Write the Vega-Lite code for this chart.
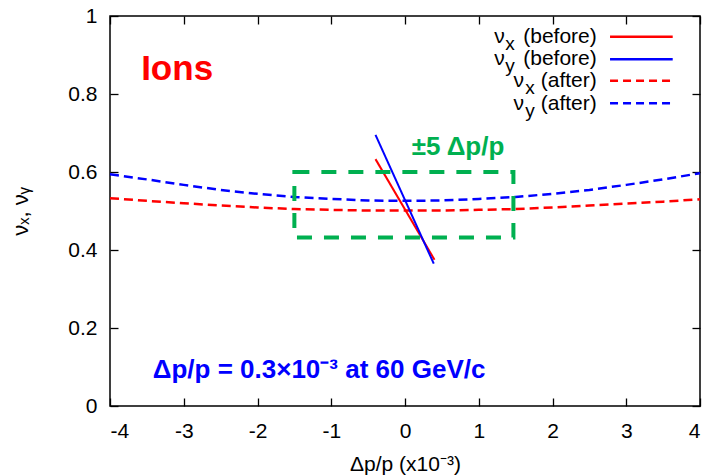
{
  "$schema": "https://vega.github.io/schema/vega-lite/v6.json",
  "width": 590,
  "height": 390,
  "autosize": {"type": "none"},
  "padding": {"left": 110, "top": 16, "right": 7, "bottom": 70},
  "background": "white",
  "config": {
    "view": {"stroke": "#000", "strokeWidth": 1.5},
    "font": "Liberation Sans",
    "axis": {
      "domain": false,
      "grid": false,
      "tickColor": "#000",
      "tickSize": -8,
      "tickWidth": 1.3,
      "labelColor": "#000",
      "labelFont": "Liberation Sans",
      "labelFontSize": 21,
      "titleFont": "Liberation Sans",
      "titleFontSize": 21,
      "titleFontWeight": "normal",
      "titleColor": "#000"
    }
  },
  "datasets": {
    "curves": [
      {"series": "vx_after", "x": -4, "y": 0.533}, {"series": "vx_after", "x": -3.5, "y": 0.526}, {"series": "vx_after", "x": -3, "y": 0.520}, {"series": "vx_after", "x": -2.5, "y": 0.514}, {"series": "vx_after", "x": -2, "y": 0.509}, {"series": "vx_after", "x": -1.5, "y": 0.505}, {"series": "vx_after", "x": -1, "y": 0.503}, {"series": "vx_after", "x": -0.5, "y": 0.501}, {"series": "vx_after", "x": 0, "y": 0.501}, {"series": "vx_after", "x": 0.5, "y": 0.501}, {"series": "vx_after", "x": 1, "y": 0.503}, {"series": "vx_after", "x": 1.5, "y": 0.505}, {"series": "vx_after", "x": 2, "y": 0.509}, {"series": "vx_after", "x": 2.5, "y": 0.514}, {"series": "vx_after", "x": 3, "y": 0.519}, {"series": "vx_after", "x": 3.5, "y": 0.524}, {"series": "vx_after", "x": 4, "y": 0.530},
      {"series": "vy_after", "x": -4, "y": 0.594}, {"series": "vy_after", "x": -3.5, "y": 0.581}, {"series": "vy_after", "x": -3, "y": 0.567}, {"series": "vy_after", "x": -2.5, "y": 0.554}, {"series": "vy_after", "x": -2, "y": 0.544}, {"series": "vy_after", "x": -1.5, "y": 0.536}, {"series": "vy_after", "x": -1, "y": 0.531}, {"series": "vy_after", "x": -0.5, "y": 0.527}, {"series": "vy_after", "x": 0, "y": 0.526}, {"series": "vy_after", "x": 0.5, "y": 0.527}, {"series": "vy_after", "x": 1, "y": 0.531}, {"series": "vy_after", "x": 1.5, "y": 0.536}, {"series": "vy_after", "x": 2, "y": 0.544}, {"series": "vy_after", "x": 2.5, "y": 0.554}, {"series": "vy_after", "x": 3, "y": 0.567}, {"series": "vy_after", "x": 3.5, "y": 0.581}, {"series": "vy_after", "x": 4, "y": 0.597},
      {"series": "vx_before", "x": -0.4, "y": 0.633}, {"series": "vx_before", "x": 0.4, "y": 0.375},
      {"series": "vy_before", "x": -0.4, "y": 0.695}, {"series": "vy_before", "x": 0.39, "y": 0.365}
    ],
    "box": [{"x": -1.5, "x2": 1.47, "y": 0.6, "y2": 0.432}],
    "legend": [
      {"series": "vx_before", "nu": "ν", "sub": "x", "rest": "(before)", "ly": 0.947, "tb": 0.931, "sb": 0.913, "nx": 1.21, "sx": 1.36},
      {"series": "vy_before", "nu": "ν", "sub": "y", "rest": "(before)", "ly": 0.889, "tb": 0.874, "sb": 0.856, "nx": 1.21, "sx": 1.36},
      {"series": "vx_after", "nu": "ν", "sub": "x", "rest": "(after)", "ly": 0.834, "tb": 0.818, "sb": 0.800, "nx": 1.47, "sx": 1.63},
      {"series": "vy_after", "nu": "ν", "sub": "y", "rest": "(after)", "ly": 0.776, "tb": 0.760, "sb": 0.742, "nx": 1.47, "sx": 1.63}
    ],
    "ions": [{"text": "Ions", "x": -3.09, "y": 0.836}],
    "range": [{"text": "±5 Δp/p", "x": 0.09, "y": 0.644}],
    "res": [{"text": "Δp/p = 0.3×10⁻³ at 60 GeV/c", "x": -3.42, "y": 0.072}]
  },
  "resolve": {"axis": {"x": "independent", "y": "independent"}},
  "layer": [
    {
      "data": {"name": "curves"},
      "transform": [{"filter": "indexof(datum.series, 'after') >= 0"}],
      "mark": {"type": "line", "strokeWidth": 2.5, "strokeDash": [9, 5]},
      "encoding": {
        "x": {"field": "x", "type": "quantitative", "scale": {"domain": [-4, 4], "nice": false, "zero": false},
              "axis": {"orient": "bottom", "values": [-4, -3, -2, -1, 0, 1, 2, 3, 4], "labelExpr": "toString(datum.value)", "labelPadding": 22, "title": "Δp/p (x10⁻³)", "titlePadding": 12}},
        "y": {"field": "y", "type": "quantitative", "scale": {"domain": [0, 1], "nice": false, "zero": false},
              "axis": {"orient": "left", "values": [0, 0.2, 0.4, 0.6, 0.8, 1], "labelExpr": "toString(datum.value)", "labelPadding": 21, "title": "νₓ, νᵧ", "titleFontSize": 22, "titlePadding": 35}},
        "color": {"field": "series", "type": "nominal", "scale": {"domain": ["vx_before", "vy_before", "vx_after", "vy_after"], "range": ["#ff0000", "#0000ff", "#ff0000", "#0000ff"]}, "legend": null},
        "detail": {"field": "series"}
      }
    },
    {
      "data": {"name": "curves"},
      "transform": [{"filter": "indexof(datum.series, 'before') >= 0"}],
      "mark": {"type": "line", "strokeWidth": 2},
      "encoding": {
        "x": {"field": "x", "type": "quantitative", "axis": {"orient": "top", "values": [-4, -3, -2, -1, 0, 1, 2, 3, 4], "labels": false, "title": null}},
        "y": {"field": "y", "type": "quantitative", "axis": {"orient": "right", "values": [0, 0.2, 0.4, 0.6, 0.8, 1], "labels": false, "title": null}},
        "color": {"field": "series", "type": "nominal", "legend": null},
        "detail": {"field": "series"}
      }
    },
    {
      "data": {"name": "box"},
      "mark": {"type": "rect", "fill": null, "fillOpacity": 0, "stroke": "#00b050", "strokeWidth": 4, "strokeDash": [15, 12]},
      "encoding": {
        "x": {"field": "x", "type": "quantitative", "axis": null},
        "x2": {"field": "x2"},
        "y": {"field": "y", "type": "quantitative", "axis": null},
        "y2": {"field": "y2"}
      }
    },
    {
      "data": {"name": "legend"},
      "transform": [{"filter": "indexof(datum.series, 'before') >= 0"}],
      "mark": {"type": "rule", "strokeWidth": 2.5},
      "encoding": {
        "x": {"datum": 2.78, "type": "quantitative", "axis": null},
        "x2": {"datum": 3.63},
        "y": {"field": "ly", "type": "quantitative", "axis": null},
        "color": {"field": "series", "type": "nominal", "legend": null}
      }
    },
    {
      "data": {"name": "legend"},
      "transform": [{"filter": "indexof(datum.series, 'after') >= 0"}],
      "mark": {"type": "rule", "strokeWidth": 2.5, "strokeDash": [8, 5]},
      "encoding": {
        "x": {"datum": 2.78, "type": "quantitative", "axis": null},
        "x2": {"datum": 3.63},
        "y": {"field": "ly", "type": "quantitative", "axis": null},
        "color": {"field": "series", "type": "nominal", "legend": null}
      }
    },
    {
      "data": {"name": "legend"},
      "mark": {"type": "text", "align": "left", "baseline": "alphabetic", "fontSize": 21, "color": "#000"},
      "encoding": {
        "x": {"field": "nx", "type": "quantitative", "axis": null},
        "y": {"field": "tb", "type": "quantitative", "axis": null},
        "text": {"field": "nu"}
      }
    },
    {
      "data": {"name": "legend"},
      "mark": {"type": "text", "align": "left", "baseline": "alphabetic", "fontSize": 19, "color": "#000"},
      "encoding": {
        "x": {"field": "sx", "type": "quantitative", "axis": null},
        "y": {"field": "sb", "type": "quantitative", "axis": null},
        "text": {"field": "sub"}
      }
    },
    {
      "data": {"name": "legend"},
      "mark": {"type": "text", "align": "right", "baseline": "alphabetic", "fontSize": 21, "color": "#000"},
      "encoding": {
        "x": {"datum": 2.6, "type": "quantitative", "axis": null},
        "y": {"field": "tb", "type": "quantitative", "axis": null},
        "text": {"field": "rest"}
      }
    },
    {
      "data": {"name": "ions"},
      "mark": {"type": "text", "align": "center", "baseline": "alphabetic", "fontWeight": "bold", "fontSize": 35, "color": "#ff0000"},
      "encoding": {
        "x": {"field": "x", "type": "quantitative", "axis": null},
        "y": {"field": "y", "type": "quantitative", "axis": null},
        "text": {"field": "text"}
      }
    },
    {
      "data": {"name": "range"},
      "mark": {"type": "text", "align": "left", "baseline": "alphabetic", "fontWeight": "bold", "fontSize": 26, "color": "#00b050"},
      "encoding": {
        "x": {"field": "x", "type": "quantitative", "axis": null},
        "y": {"field": "y", "type": "quantitative", "axis": null},
        "text": {"field": "text"}
      }
    },
    {
      "data": {"name": "res"},
      "mark": {"type": "text", "align": "left", "baseline": "alphabetic", "fontWeight": "bold", "fontSize": 26, "color": "#0000ff"},
      "encoding": {
        "x": {"field": "x", "type": "quantitative", "axis": null},
        "y": {"field": "y", "type": "quantitative", "axis": null},
        "text": {"field": "text"}
      }
    }
  ]
}
